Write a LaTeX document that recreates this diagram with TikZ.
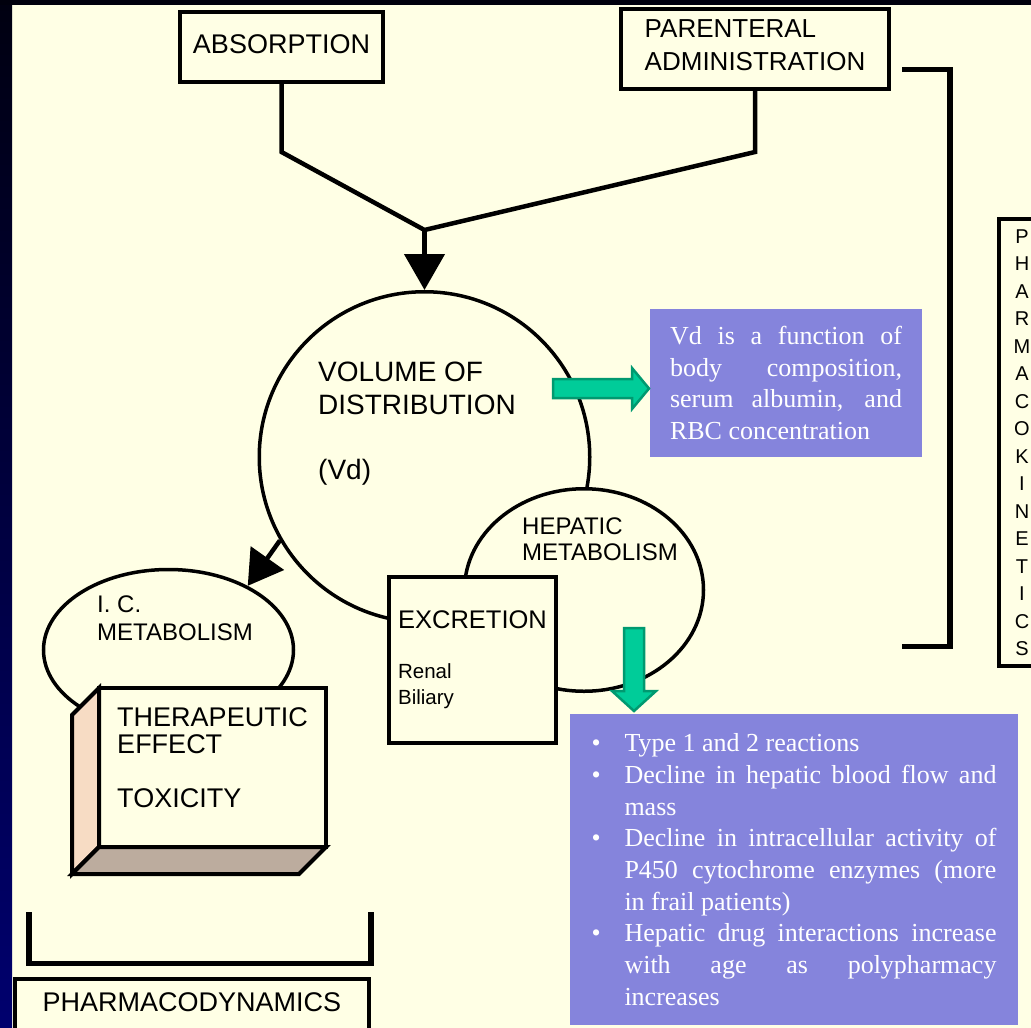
\documentclass[tikz,border=0pt]{standalone}
\usepackage{fontspec}
\setmainfont{Liberation Sans}
\newfontfamily\notefont{Liberation Serif}
\usetikzlibrary{arrows.meta,shapes.geometric}

\definecolor{cream}{HTML}{FFFFE5}
\definecolor{navy}{HTML}{00006E}
\definecolor{notebg}{HTML}{8584DC}
\definecolor{arrowfill}{HTML}{00CC99}
\definecolor{arrowedge}{HTML}{009970}
\definecolor{sideface}{HTML}{F7DCC4}
\definecolor{baseface}{HTML}{BCAC9E}

\newcommand\fsz[2]{\fontsize{#1}{#2}\selectfont}
\newcommand\noteitem[1]{\noindent\hangindent=33pt\hangafter=1\makebox[33pt][l]{\textbullet}#1\par}

\tikzset{
  frame/.style={draw, line width=4pt, fill=cream, inner sep=0pt, outer sep=0pt},
  bubble/.style={draw, line width=3.5pt, inner sep=0pt},
  link/.style={line width=4.5pt},
  bracket/.style={line width=5.5pt},
  lbl/.style={inner sep=0pt, anchor=north west, align=left},
  note/.style={fill=notebg, text=white, inner sep=0pt, align=justify,
    font=\notefont\fsz{26}{31.7},
    execute at begin node={\tolerance=10000\hyphenpenalty=10000}},
  blockarrow/.style={fill=arrowfill, draw=arrowedge, line width=2.5pt},
}

\begin{document}
\begin{tikzpicture}[x=1pt,y=-1pt]
% page and dark frame
\useasboundingbox (0,0) rectangle (1031,1028);
\fill[cream] (0,0) rectangle (1031,1028);
\shade[top color=black!85!navy, bottom color=navy] (0,0) rectangle (12,1028);
\fill[black!88!navy] (0,0) rectangle (1031,5);

% brackets
\draw[bracket] (902,69.5) -- (950,69.5) -- (950,646.5) -- (902,646.5); % kinetics
\draw[bracket] (29,912) -- (29,963.5) -- (371,963.5) -- (371,912); % dynamics

% entry boxes
\node[frame, minimum width=203, minimum height=70, text depth=6pt, font=\fsz{27}{33}] (absorp) at (281.5,47) {ABSORPTION};
\node[frame, minimum width=268, minimum height=80, text depth=7pt, align=left, font=\fsz{26}{33}] (parent) at (755,49) {PARENTERAL\\ADMINISTRATION};

% volume of distribution
\node[bubble, circle, minimum size=330.5] (vd) at (424.5,457) {};
\node[lbl, font=\fsz{28}{32.5}] (vdlbl) at (318,362) {VOLUME OF\\DISTRIBUTION\\[33pt](Vd)};

% inputs join and flow into vd
\coordinate (join) at (424.5,230);
\draw[link] (absorp.south) -- (absorp.south |- 0,152) -- (join) -- (parent.south |- 0,152) -- (parent.south);
\draw[link, -{Triangle[length=36pt,width=40pt]}] (join) -- (vd.north);

% hepatic metabolism and excretion
\node[bubble, ellipse, fill=cream, minimum width=239, minimum height=202.5] (hep) at (584,590) {};
\node[lbl, font=\fsz{24}{26}] (heplbl) at (522,518) {HEPATIC\\METABOLISM};
\node[frame, minimum width=167, minimum height=166, align=left, font=\fsz{20.5}{26}] (excr) at (472.5,660) {{\fsz{25.5}{26}EXCRETION}\\[24pt]Renal\\Biliary};

% intracellular metabolism
\node[bubble, ellipse, minimum width=250, minimum height=161] (ic) at (168.5,650) {};
\node[lbl, font=\fsz{24}{28}] (iclbl) at (97,596) {I. C.\\METABOLISM};
\draw[link, -{Triangle[length=34pt,width=40pt]}] (vd.210) -- (ic.39);

% effect block
\node[frame, minimum width=227, minimum height=159, text depth=20pt, align=left, font=\fsz{27}{27}] (thera) at (212.5,767.5) {THERAPEUTIC\\EFFECT\\[27pt]TOXICITY};
\filldraw[line width=4pt, fill=sideface] (thera.north west) -- ++(-27,27) -- ([shift={(-27,27)}]thera.south west) -- (thera.south west) -- cycle;
\filldraw[line width=4pt, fill=baseface] (thera.south west) -- (thera.south east) -- ([shift={(-27,27)}]thera.south east) -- ([shift={(-27,27)}]thera.south west) -- cycle;

% side titles
\node[frame, minimum width=354, minimum height=66, text depth=19pt, font=\fsz{27}{33}] (dyn) at (192,1012) {PHARMACODYNAMICS};
\node[frame, minimum width=46, minimum height=447, align=center, font=\fsz{20}{27.5}] (kin) at (1022,442.5) {P\\H\\A\\R\\M\\A\\C\\O\\K\\I\\N\\E\\T\\I\\C\\S};

% notes
\node[note, text width=232, minimum width=272, minimum height=148] (note1) at (786,383) {Vd is a function of\linebreak body composition,\linebreak serum albumin, and\linebreak RBC concentration};
\filldraw[blockarrow] (553,379) -- (632,379) -- (632,368) -- (649,388.5) -- (632,409) -- (632,398) -- (553,398) -- cycle;

\node[note, text width=405, minimum width=448, minimum height=311] (note2) at (794,869.5) {%
\noteitem{Type 1 and 2 reactions}%
\noteitem{Decline in hepatic blood flow and\linebreak mass}%
\noteitem{Decline in intracellular activity of\linebreak P450 cytochrome enzymes (more\linebreak in frail patients)}%
\noteitem{Hepatic drug interactions increase\linebreak with age as polypharmacy\linebreak increases}};
\filldraw[blockarrow] (624,628) -- (644,628) -- (644,691) -- (656,691) -- (634,711) -- (612,691) -- (624,691) -- cycle;
\end{tikzpicture}
\end{document}
